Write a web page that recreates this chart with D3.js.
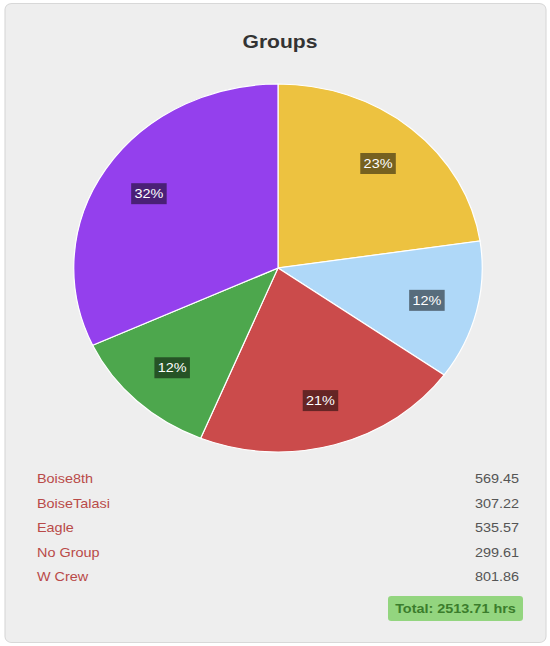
<!DOCTYPE html>
<html lang="en">
<head>
<meta charset="UTF-8">
<title>Groups</title>
<script src="https://d3js.org/d3.v7.min.js"></script>
<style>
  body { margin: 0; background: #fff; font-family: "Liberation Sans", Arial, sans-serif; }
</style>
</head>
<body>
<div id="chart"></div>
<script>
// data
const groups = ["Boise8th", "BoiseTalasi", "Eagle", "No Group", "W Crew"];
const hours = [569.45, 307.22, 535.57, 299.61, 801.86];
const colors = ["#edc240", "#afd8f8", "#cb4b4b", "#4da74d", "#9440ed"];
const unit = "hrs";

// the picture is stretched sideways a bit, so draw in a narrower viewBox
const W = 550, H = 646, sx = 1.11;
const vw = W / sx;

const svg = d3.select("#chart").append("svg")
    .attr("width", W).attr("height", H)
    .attr("viewBox", `0 0 ${vw} ${H}`)
    .attr("preserveAspectRatio", "none");

// panel
svg.append("rect")
    .attr("x", 4.5).attr("y", 3.5)
    .attr("width", 541 / sx).attr("height", 639)
    .attr("rx", 6).attr("ry", 6)
    .attr("fill", "#eeeeee")
    .attr("stroke", "#d8d8d8")
    .attr("stroke-width", 1);

svg.append("text")
    .attr("x", 280 / sx).attr("y", 48)
    .attr("text-anchor", "middle")
    .attr("font-size", 19).attr("font-weight", "bold")
    .attr("fill", "#333")
    .text("Groups");

// pie
const cx = 278 / sx, cy = 268, r = 184;
const total = d3.sum(hours);
const pie = d3.pie().sort(null)(hours);
const arc = d3.arc().innerRadius(0).outerRadius(r);
const labelArc = d3.arc().innerRadius(r * 0.75).outerRadius(r * 0.75);

const g = svg.append("g").attr("transform", `translate(${cx},${cy})`);

g.selectAll("path.slice")
    .data(pie)
    .join("path")
    .attr("class", "slice")
    .attr("d", arc)
    .attr("fill", (d, i) => colors[i])
    .attr("stroke", "#fff")
    .attr("stroke-width", 1.2)
    .attr("vector-effect", "non-scaling-stroke");

const labels = g.selectAll("g.lbl")
    .data(pie)
    .join("g")
    .attr("class", "lbl")
    .attr("transform", d => `translate(${labelArc.centroid(d)})`);

labels.each(function(d) {
    const lg = d3.select(this);
    const t = lg.append("text")
        .attr("text-anchor", "middle")
        .attr("dy", "0.36em")
        .attr("font-size", 13)
        .attr("fill", "#fff")
        .text(Math.round(d.value / total * 100) + "%");
    const w = t.node().getComputedTextLength() + 6;
    lg.insert("rect", "text")
        .attr("x", -w / 2).attr("y", -10.5)
        .attr("width", w).attr("height", 21)
        .attr("fill", "rgba(0,0,0,0.5)");
});

// legend table
const y = d3.scaleBand().domain(groups).range([470.5, 593]);
const rows = svg.selectAll("g.row")
    .data(groups)
    .join("g")
    .attr("class", "row")
    .attr("transform", d => `translate(0,${y(d) + 12.5})`);

rows.append("text")
    .attr("x", 37 / sx)
    .attr("font-size", 13)
    .attr("fill", "#b94a48")
    .text(d => d);

rows.append("text")
    .attr("x", 519 / sx)
    .attr("text-anchor", "end")
    .attr("font-size", 13)
    .attr("fill", "#555")
    .text((d, i) => hours[i].toFixed(2));

// total badge
svg.append("rect")
    .attr("x", 388 / sx).attr("y", 596)
    .attr("width", 135 / sx).attr("height", 25)
    .attr("rx", 3).attr("ry", 3)
    .attr("fill", "#93d57f");

svg.append("text")
    .attr("x", 455.5 / sx).attr("y", 613)
    .attr("text-anchor", "middle")
    .attr("font-size", 13).attr("font-weight", "bold")
    .attr("fill", "#3b7d2c")
    .text(`Total: ${total.toFixed(2)} ${unit}`);
</script>
</body>
</html>
